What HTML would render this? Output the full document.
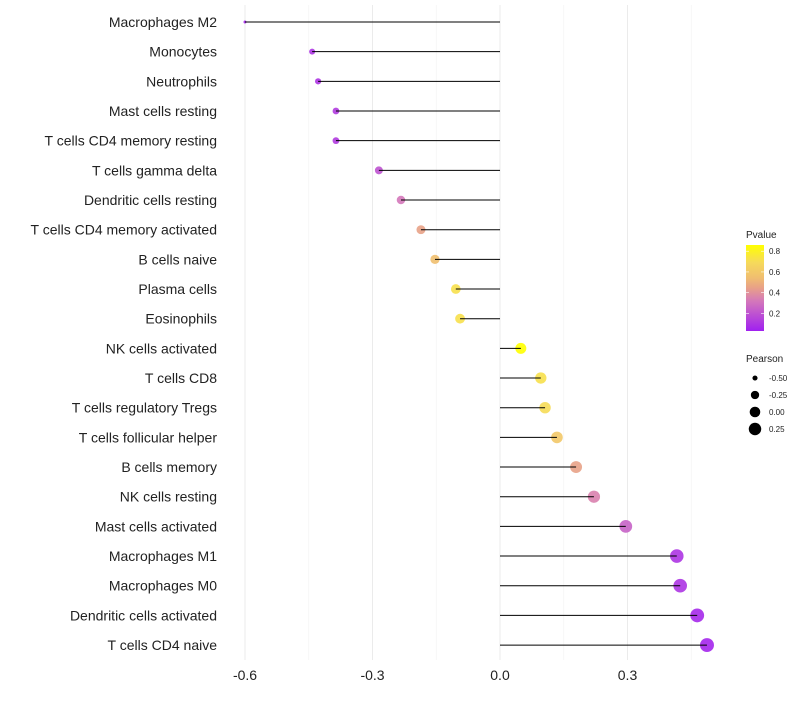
<!DOCTYPE html>
<html><head><meta charset="utf-8"><style>
body{margin:0;background:#fff;font-family:"Liberation Sans",sans-serif}
</style></head><body>
<svg id="c" width="800" height="700" xmlns="http://www.w3.org/2000/svg"></svg>
<script>
const categories=["Macrophages M2","Monocytes","Neutrophils","Mast cells resting","T cells CD4 memory resting","T cells gamma delta","Dendritic cells resting","T cells CD4 memory activated","B cells naive","Plasma cells","Eosinophils","NK cells activated","T cells CD8","T cells regulatory  Tregs ","T cells follicular helper","B cells memory","NK cells resting","Mast cells activated","Macrophages M1","Macrophages M0","Dendritic cells activated","T cells CD4 naive"];
const pearson=[-0.6,-0.442,-0.428,-0.386,-0.386,-0.285,-0.233,-0.186,-0.153,-0.104,-0.094,0.049,0.096,0.106,0.134,0.179,0.221,0.296,0.416,0.424,0.464,0.487];
const pvalue=[0.05,0.1,0.1,0.12,0.12,0.2,0.32,0.45,0.55,0.72,0.72,0.86,0.72,0.7,0.6,0.45,0.35,0.25,0.1,0.1,0.06,0.05];
const xTicks=[-0.6,-0.3,0.0,0.3];
const xTickLabels=["-0.6","-0.3","0.0","0.3"];
const legendColorTicks=[0.2,0.4,0.6,0.8];
const legendSizeVals=[-0.5,-0.25,0,0.25];
const NS="http://www.w3.org/2000/svg";
const svg=document.getElementById('c');
function el(t,a,p){const e=document.createElementNS(NS,t);for(const k in a)e.setAttribute(k,a[k]);(p||svg).appendChild(e);return e;}
const X=v=>500+v*425;
const Y=i=>22+i*29.67;
const R=v=>Math.sqrt(Math.max(1,28+42.9*v));
const stops=[[0,[160,32,240]],[0.35,[212,120,186]],[0.5,[232,160,136]],[0.62,[240,190,112]],[0.8,[246,218,90]],[1,[255,255,0]]];
function col(p){const t=Math.max(0,Math.min(1,(p-0.03)/(0.86-0.03)));
 for(let i=1;i<stops.length;i++){if(t<=stops[i][0]){const a=stops[i-1],b=stops[i];const u=(t-a[0])/(b[0]-a[0]);
 return `rgb(${a[1].map((x,k)=>Math.round(x+(b[1][k]-x)*u))})`;}}
 return 'rgb(255,255,0)';}
[-0.45,-0.15,0.15,0.45].forEach(v=>{const l=el('line',{x1:X(v),x2:X(v),y1:5,y2:660,stroke:'#f3f3f3','stroke-width':0.6});});
xTicks.forEach((v,i)=>{const l=el('line',{x1:X(v),x2:X(v),y1:5,y2:660,stroke:'#ebebeb','stroke-width':1});

const t=el('text',{x:X(v),y:680,'text-anchor':'middle','font-size':14,fill:'#222'});t.textContent=xTickLabels[i];
});
categories.forEach((c,i)=>{
 const y=Y(i);
 const t=el('text',{x:217,y:y+5,'text-anchor':'end','font-size':14,fill:'#222'});t.textContent=c;
 
 const p=el('circle',{cx:X(pearson[i]),cy:y,r:R(pearson[i]),fill:col(pvalue[i]),'fill-opacity':0.9});
 
 const l=el('line',{x1:X(0),x2:X(pearson[i]),y1:y,y2:y,stroke:'#000','stroke-width':1});
 
});
const lt=el('text',{x:746,y:238,'font-size':10,fill:'#222'});lt.textContent='Pvalue';

const defs=el('defs',{});const g=el('linearGradient',{id:'pg',x1:0,y1:1,x2:0,y2:0},defs);
stops.forEach(s=>el('stop',{offset:s[0],'stop-color':`rgb(${s[1]})`},g));
const bar=el('rect',{x:746,y:245,width:18,height:86,fill:'url(#pg)'});

const PY=p=>331-(p-0.03)/(0.83)*86;
legendColorTicks.forEach(v=>{el('line',{x1:746,x2:749,y1:PY(v),y2:PY(v),stroke:'#fff','stroke-width':0.6});el('line',{x1:761,x2:764,y1:PY(v),y2:PY(v),stroke:'#fff','stroke-width':0.6});
const t=el('text',{x:769,y:PY(v)+3,'font-size':8,fill:'#222'});t.textContent=v.toFixed(1);
});
const st=el('text',{x:746,y:362,'font-size':10,fill:'#222'});st.textContent='Pearson';

legendSizeVals.forEach((v,i)=>{const y=378+i*17;
const c=el('circle',{cx:755,cy:y,r:R(v),fill:'#000'});
const t=el('text',{x:769,y:y+3,'font-size':8,fill:'#222'});t.textContent=v.toFixed(2);
});
</script>
</body></html>
